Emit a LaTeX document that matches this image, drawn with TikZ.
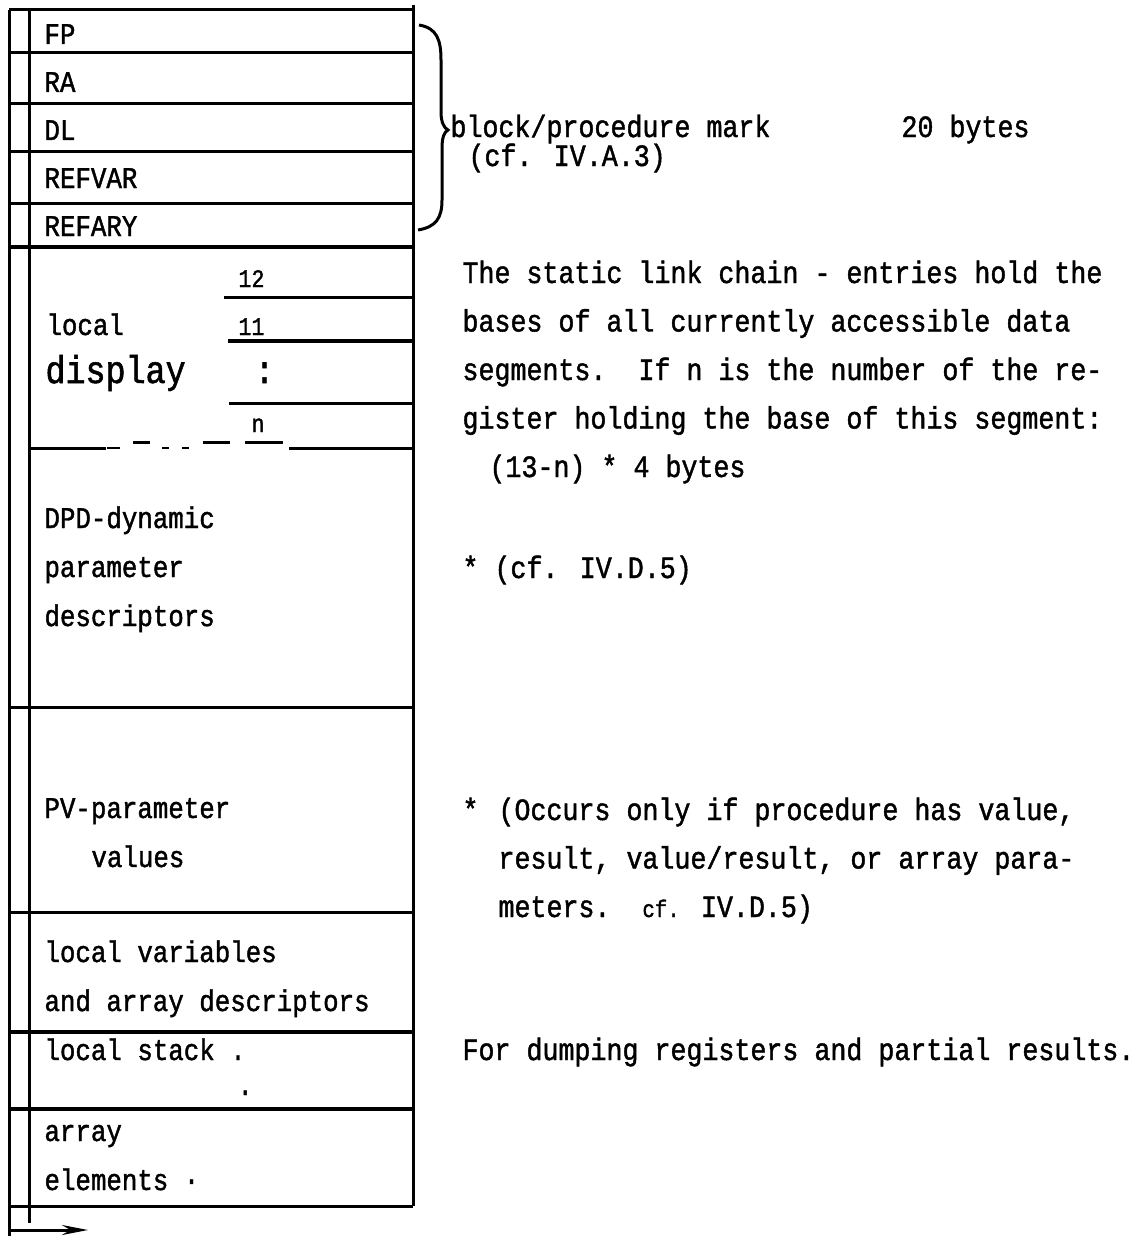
\documentclass[tikz,border=0pt]{standalone}
\usepackage{fontspec}
\newfontfamily\typefont[FakeStretch=0.86, FakeBold=1.4]{Liberation Mono}
\usetikzlibrary{arrows.meta}
\begin{document}
\begin{tikzpicture}[x=0.5pt, y=-0.5pt, line width=1.5pt,
	every node/.style={inner sep=0pt, anchor=base west},
	celltext/.style={font=\typefont\fontsize{15}{24.5}\selectfont, align=left},
	bigtext/.style={font=\typefont\fontsize{19.4}{24}\selectfont},
	regnum/.style={font=\typefont\fontsize{12.6}{15}\selectfont},
	notetext/.style={font=\typefont\fontsize{15.5}{24.25}\selectfont, align=left},
	heavy/.style={line width=2.2pt}]
	\useasboundingbox (0,0) rectangle (1135,1236);
	% frame of the segment
	\draw (9,10) -- (9,1236);
	\draw (29,10) -- (29,1223);
	\draw (413,5) -- (413,1206);
	\foreach \y in {10,53,104,151,203,707,912,1206}
		\draw (9,\y) -- (413,\y);
	\foreach \y in {247,1032,1109}
		\draw[heavy] (9,\y) -- (413,\y);
	% local display
	\draw (224,297) -- (413,297);
	\draw[heavy] (228,341) -- (413,341);
	\draw (229,403) -- (413,403);
	\draw (29,448) -- (106,448);
	\draw (289,448) -- (413,448);
	\foreach \a/\b in {133/150,203/230,245/283}
		\draw (\a,442) -- (\b,442);
	\foreach \a/\b in {107/120,162/169,182/189}
		\draw[line width=0.6pt] (\a,448) -- (\b,448);
	% cells (multi-line nodes sit on their last line)
	\node[celltext] (fp) at (43,44) {FP};
	\node[celltext] (ra) at (43,92) {RA};
	\node[celltext] (dl) at (43,140) {DL};
	\node[celltext] (refvar) at (43,188) {REFVAR};
	\node[celltext] (refary) at (43,236) {REFARY};
	\node[regnum] (reg12) at (237,287) {12};
	\node[celltext] (local) at (45,335) {local};
	\node[regnum] (reg11) at (237,335) {11};
	\node[bigtext] (display) at (44,383) {display};
	\node[bigtext] (regdots) at (253,383) {:};
	\node[regnum] (regn) at (250,432) {n};
	\node[celltext] (dpd) at (43,626) {DPD-dynamic\\parameter\\descriptors};
	\node[celltext] (pv) at (43,867) {PV-parameter\\\hspace*{23.5pt}values};
	\node[celltext] (locvar) at (43,1011) {local variables\\and array descriptors};
	\node[celltext] (locstack) at (43,1060) {local stack .};
	\node[celltext] (stackdot) at (236,1095) {.};
	\node[celltext] (arrelem) at (43,1190) {array\\elements ·};
	% mark brace
	\draw (419,25) .. controls (437,28) and (441,40) .. (441,60) -- (441,112)
		.. controls (441,122) and (444,128) .. (448,130)
		.. controls (444,132) and (442,138) .. (442,148) -- (442,200)
		.. controls (442,218) and (436,227) .. (418,230);
	% notes
	\node[notetext] (mark) at (449,137) {block/procedure mark};
	\node[notetext] (markbytes) at (900,137) {20 bytes};
	\node[notetext] (markref) at (467,166) {(cf. IV.A.3)};
	\node[notetext] (chain) at (461,477) {The static link chain - entries hold the\\bases of all currently accessible data\\segments.~~If n is the number of the re-\\gister holding the base of this segment:\\\hspace*{13.5pt}(13-n) * 4 bytes};
	\node[notetext] (dpdref) at (461,578) {* (cf. IV.D.5)};
	\node[notetext] (pvstar) at (461,820) {*};
	\node[notetext] (pvnote) at (497,917) {(Occurs only if procedure has value,\\result, value/result, or array para-\\meters.~~{\fontsize{12}{12}\selectfont cf.} IV.D.5)};
	\node[notetext] (dumpnote) at (461,1060) {For dumping registers and partial results.};
	% bottom arrow
	\coordinate (arrowtail) at (9,1230);
	\coordinate (arrowtip) at (88,1230);
	\draw[-{Stealth[length=13pt, width=5pt]}] (arrowtail) -- (arrowtip);
\end{tikzpicture}
\end{document}
